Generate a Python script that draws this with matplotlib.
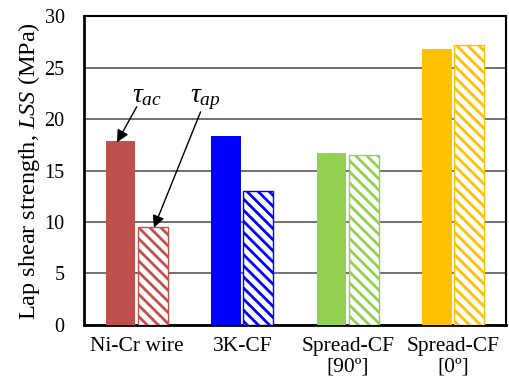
import matplotlib
matplotlib.use("Agg")
import matplotlib.pyplot as plt
import numpy as np

categories = ["Ni-Cr wire", "3K-CF", "Spread-CF\n[90º]", "Spread-CF\n[0º]"]
tau_ac = [17.9, 18.4, 16.7, 26.8]
tau_ap = [9.5, 13.0, 16.5, 27.2]
colors = ["#C0504D", "#0000FF", "#92D050", "#FFC000"]
yticks = [0, 5, 10, 15, 20, 25, 30]

plt.rcParams['font.family'] = ['Liberation Serif', 'DejaVu Serif']
plt.rcParams['mathtext.fontset'] = 'custom'
plt.rcParams['mathtext.rm'] = 'Liberation Serif'
plt.rcParams['mathtext.it'] = 'Liberation Serif:italic'
plt.rcParams['hatch.linewidth'] = 2.0

fig = plt.figure(figsize=(5.09, 3.85), dpi=100)
ax = fig.add_axes([0.165, 0.156, 0.829, 0.802])

x = np.arange(len(categories))
w = 0.28
off = 0.152
for i in range(len(categories)):
    ax.bar(x[i] - off, tau_ac[i], w, color=colors[i], edgecolor=colors[i], linewidth=0, zorder=3)
    ax.bar(x[i] + off, tau_ap[i], w, facecolor='white', edgecolor=colors[i], hatch='\\\\\\', linewidth=1.0, zorder=3)

ax.set_xlim(-0.5, 3.5)
ax.set_ylim(0, 30)
ax.set_yticks(yticks)
ax.set_xticks(x)
ax.set_xticklabels(categories, fontsize=15.5, linespacing=1.05)
ax.tick_params(axis='y', length=0, pad=14, labelsize=14.5)
ax.tick_params(axis='x', length=0, pad=9, labelsize=15.5)
ax.yaxis.grid(True, color='#666666', linewidth=1.3, zorder=0)
ax.set_axisbelow(True)
for s in ['top', 'right']:
    ax.spines[s].set_linewidth(1.5)
for s in ['left', 'bottom']:
    ax.spines[s].set_linewidth(2.0)

ax.set_ylabel(r'Lap shear strength, $\mathit{LSS}$ (MPa)', fontsize=17.5, labelpad=1.5)

ax.text(0.10, 22.3, r'$\tau_{ac}$', fontsize=20, ha='center', va='center', zorder=5)
ax.text(0.65, 21.9, r'$\tau_{ap}$', fontsize=20, ha='center', va='center', zorder=5)
ax.annotate('', xy=(-0.187, 17.75), xytext=(0.0, 21.2),
            arrowprops=dict(arrowstyle='-|>', color='black', lw=1.0, shrinkA=0, shrinkB=0,
                            mutation_scale=18), zorder=5)
ax.annotate('', xy=(0.163, 9.45), xytext=(0.605, 20.7),
            arrowprops=dict(arrowstyle='-|>', color='black', lw=1.0, shrinkA=0, shrinkB=0,
                            mutation_scale=18), zorder=5)

fig.savefig("out.png", dpi=100)
